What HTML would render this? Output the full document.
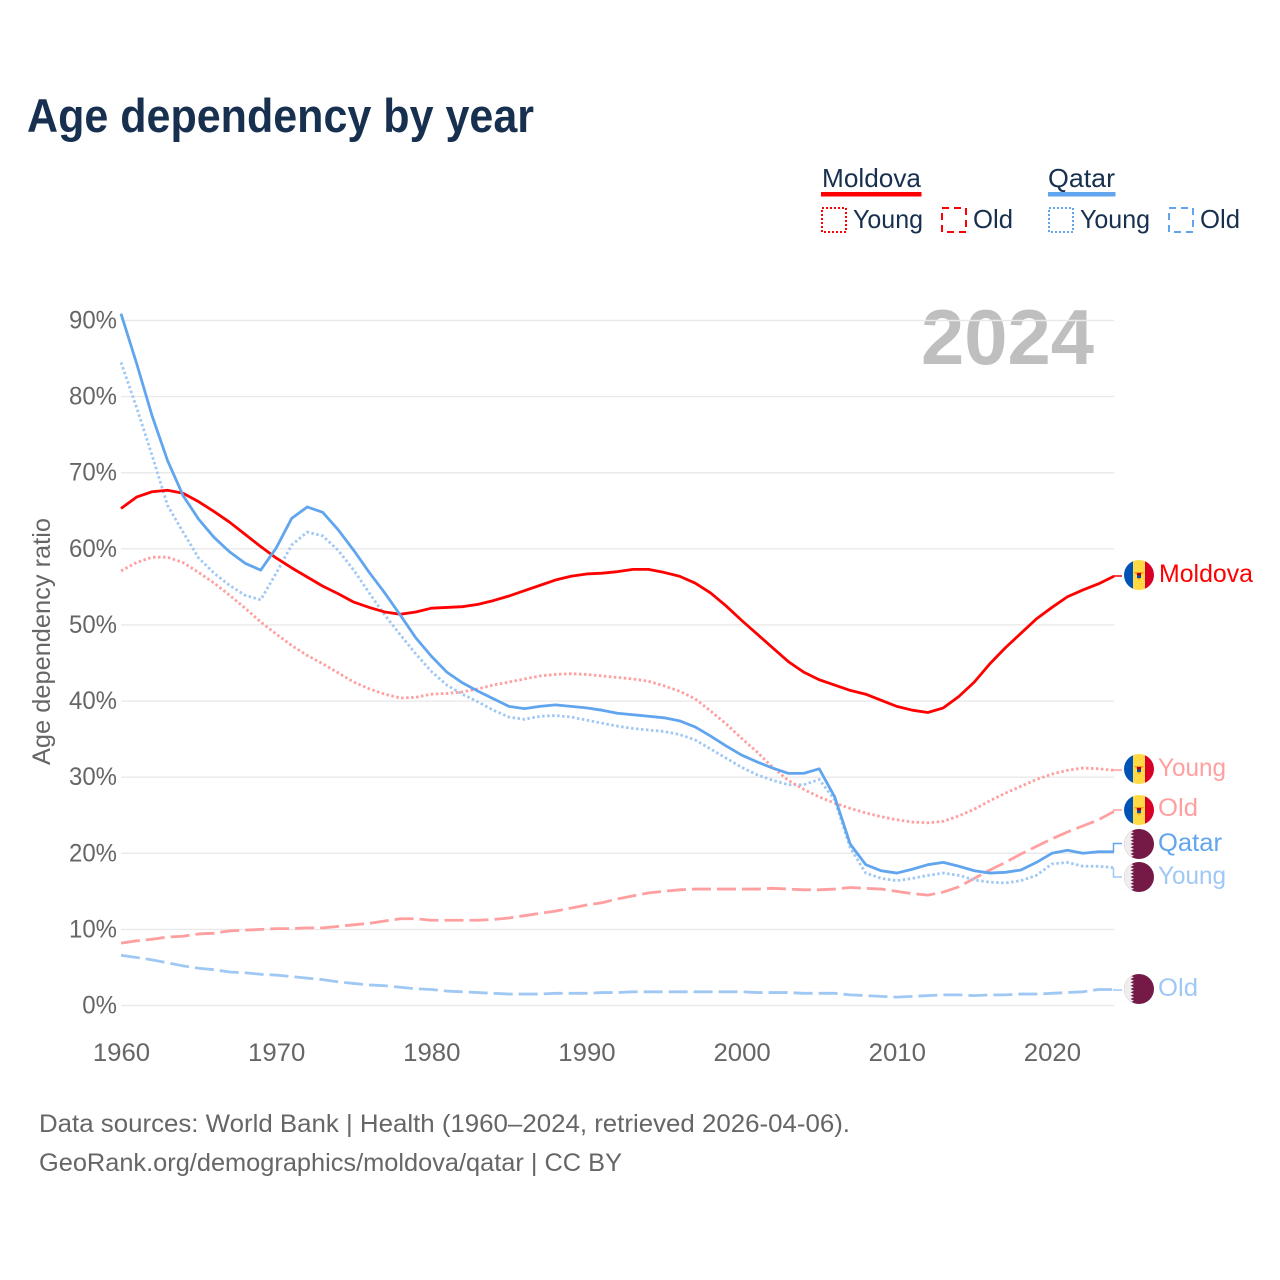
<!DOCTYPE html>
<html lang="en">
<head>
<meta charset="utf-8">
<title>Age dependency by year</title>
<style>
  html, body { margin: 0; padding: 0; background: #fff; }
  svg { display: block; font-family: "Liberation Sans", sans-serif; }
</style>
</head>
<body>
<svg id="chart" xmlns="http://www.w3.org/2000/svg" width="1280" height="1280" viewBox="0 0 1280 1280">
  <rect x="0" y="0" width="1280" height="1280" fill="#ffffff"/>
  <text x="27" y="132" font-size="47" font-weight="700" fill="#17304f" textLength="507" lengthAdjust="spacingAndGlyphs">Age dependency by year</text>

  <g font-size="26" fill="#17304f">
    <text x="822" y="187" textLength="99" lengthAdjust="spacingAndGlyphs">Moldova</text>
    <rect x="821" y="192" width="100.5" height="4.5" fill="#ff0000"/>
    <rect x="822" y="208" width="24" height="24" fill="none" stroke="#ff0000" stroke-width="2" stroke-dasharray="2 2"/>
    <text x="853" y="228" textLength="70" lengthAdjust="spacingAndGlyphs">Young</text>
    <rect x="942" y="208" width="24" height="24" fill="none" stroke="#ff0000" stroke-width="2" stroke-dasharray="7 5"/>
    <text x="973" y="228" textLength="40" lengthAdjust="spacingAndGlyphs">Old</text>
    <text x="1048" y="187" textLength="67" lengthAdjust="spacingAndGlyphs">Qatar</text>
    <rect x="1048" y="192" width="67.5" height="4.5" fill="#60a5ee"/>
    <rect x="1049" y="208" width="24" height="24" fill="none" stroke="#60a5ee" stroke-width="2" stroke-dasharray="2 2"/>
    <text x="1080" y="228" textLength="70" lengthAdjust="spacingAndGlyphs">Young</text>
    <rect x="1169" y="208" width="24" height="24" fill="none" stroke="#60a5ee" stroke-width="2" stroke-dasharray="7 5"/>
    <text x="1200" y="228" textLength="40" lengthAdjust="spacingAndGlyphs">Old</text>
  </g>

  <text x="921" y="364" font-size="78" font-weight="700" fill="#bfbfbf" textLength="173" lengthAdjust="spacingAndGlyphs">2024</text>
  <text transform="translate(50,765) rotate(-90)" font-size="25" fill="#666666" textLength="247" lengthAdjust="spacingAndGlyphs">Age dependency ratio</text>

  <g id="grid"></g>
  <g id="yticks"></g>
  <g id="xticks"></g>
  <g id="series"></g>

  <g font-size="25">
    <path d="M1113 576H1122" fill="none" stroke="#ff0000" stroke-width="1.5"/>
    <path d="M1113 770H1122" fill="none" stroke="#ff9f9f" stroke-width="1.5"/>
    <path d="M1113 810H1122" fill="none" stroke="#ff9f9f" stroke-width="1.5"/>
    <path d="M1113.500 852V843.500H1122" fill="none" stroke="#60a5ee" stroke-width="1.500"/>
    <path d="M1113.500 868V877H1122" fill="none" stroke="#a0c8f4" stroke-width="1.500"/>
    <path d="M1113 990H1122" fill="none" stroke="#a0c8f4" stroke-width="1.500"/>

    <defs>
      <clipPath id="flag-clip"><circle cx="0" cy="0" r="15"/></clipPath>
      <g id="flag-md" clip-path="url(#flag-clip)">
        <rect x="-15" y="-15" width="9" height="30" fill="#0052b4"/>
        <rect x="-6" y="-15" width="12" height="30" fill="#ffda44"/>
        <rect x="6" y="-15" width="9" height="30" fill="#d80027"/>
        <path d="M-5 -3H5L2 0V3L0 5L-2 3V0Z" fill="#ff9811"/>
        <rect x="-2" y="-2" width="4" height="2.500" fill="#a2001d"/>
        <rect x="-2" y="0.500" width="4" height="2.500" fill="#0052b4"/>
      </g>
      <g id="flag-qa" clip-path="url(#flag-clip)">
        <rect x="-15" y="-15" width="30" height="30" fill="#751a46"/>
        <path d="M-15 -15H-5L-8.500 -13.300L-5 -11.700L-8.500 -10L-5 -8.300L-8.500 -6.700L-5 -5L-8.500 -3.300L-5 -1.700L-8.500 0L-5 1.700L-8.500 3.300L-5 5L-8.500 6.700L-5 8.300L-8.500 10L-5 11.700L-8.500 13.300L-5 15H-15Z" fill="#eeeeee"/>
      </g>
    </defs>

    <use href="#flag-md" x="1139" y="575"/>
    <use href="#flag-md" x="1139" y="769"/>
    <use href="#flag-md" x="1139" y="810"/>
    <use href="#flag-qa" x="1139" y="844"/>
    <use href="#flag-qa" x="1139" y="877"/>
    <use href="#flag-qa" x="1139" y="989"/>

    <text x="1159" y="582" fill="#ff0000" textLength="94" lengthAdjust="spacingAndGlyphs">Moldova</text>
    <text x="1158" y="776" fill="#ff9f9f" textLength="68" lengthAdjust="spacingAndGlyphs">Young</text>
    <text x="1158" y="816" fill="#ff9f9f" textLength="40" lengthAdjust="spacingAndGlyphs">Old</text>
    <text x="1158" y="851" fill="#60a5ee" textLength="64" lengthAdjust="spacingAndGlyphs">Qatar</text>
    <text x="1158" y="884" fill="#a0c8f4" textLength="68" lengthAdjust="spacingAndGlyphs">Young</text>
    <text x="1158" y="996" fill="#a0c8f4" textLength="40" lengthAdjust="spacingAndGlyphs">Old</text>
  </g>

  <g font-size="25" fill="#666666">
    <text x="39" y="1132" textLength="811" lengthAdjust="spacingAndGlyphs">Data sources: World Bank | Health (1960–2024, retrieved 2026-04-06).</text>
    <text x="39" y="1171" textLength="583" lengthAdjust="spacingAndGlyphs">GeoRank.org/demographics/moldova/qatar | CC BY</text>
  </g>
</svg>

<script>
const startYear = 1960;
const yTickValues = [0, 10, 20, 30, 40, 50, 60, 70, 80, 90];
const yTickLabels = ["0%", "10%", "20%", "30%", "40%", "50%", "60%", "70%", "80%", "90%"];
const xTickYears = [1960, 1970, 1980, 1990, 2000, 2010, 2020];

const moldovaTotal = [65.3,66.8,67.5,67.7,67.3,66.2,64.9,63.5,61.9,60.3,58.8,57.5,56.3,55.1,54.1,53.0,52.3,51.7,51.4,51.7,52.2,52.3,52.4,52.7,53.2,53.8,54.5,55.2,55.9,56.4,56.7,56.8,57.0,57.3,57.3,56.9,56.4,55.5,54.2,52.5,50.6,48.8,47.0,45.2,43.8,42.8,42.1,41.4,40.9,40.1,39.3,38.8,38.5,39.1,40.6,42.5,44.9,47.0,48.9,50.8,52.3,53.7,54.6,55.4,56.4];
const moldovaYoung = [57.1,58.2,58.9,58.9,58.2,56.9,55.5,53.9,52.2,50.4,48.8,47.3,46.0,44.9,43.7,42.5,41.6,40.9,40.4,40.5,40.9,41.0,41.2,41.6,42.1,42.5,42.9,43.3,43.5,43.6,43.5,43.3,43.1,42.9,42.6,42.0,41.3,40.3,38.7,37.0,35.1,33.3,31.3,29.6,28.4,27.4,26.6,25.9,25.3,24.8,24.4,24.1,24.0,24.2,24.9,25.8,26.9,27.9,28.8,29.7,30.4,30.9,31.2,31.1,30.9];
const moldovaOld = [8.2,8.5,8.7,9.0,9.1,9.4,9.5,9.8,9.9,10.0,10.1,10.1,10.2,10.2,10.4,10.6,10.8,11.1,11.4,11.4,11.2,11.2,11.2,11.2,11.3,11.5,11.8,12.1,12.4,12.8,13.2,13.5,14.0,14.4,14.8,15.0,15.2,15.3,15.3,15.3,15.3,15.3,15.4,15.3,15.2,15.2,15.3,15.5,15.4,15.3,15.0,14.7,14.5,14.9,15.6,16.7,17.8,18.8,19.9,20.9,21.9,22.8,23.6,24.4,25.5];
const qatarTotal = [90.9,84.4,77.5,71.6,67.0,63.9,61.5,59.6,58.1,57.2,60.1,64.0,65.5,64.8,62.5,59.8,56.9,54.2,51.3,48.3,45.9,43.8,42.4,41.3,40.3,39.3,39.0,39.3,39.5,39.3,39.1,38.8,38.4,38.2,38.0,37.8,37.4,36.6,35.4,34.1,32.9,32.0,31.2,30.5,30.5,31.1,27.4,21.2,18.5,17.7,17.4,17.9,18.5,18.8,18.3,17.7,17.4,17.5,17.8,18.8,20.0,20.4,20.0,20.2,20.2];
const qatarYoung = [84.5,78.6,72.3,65.7,62.2,58.8,56.8,55.2,53.9,53.3,56.8,60.5,62.2,61.7,59.8,57.2,54.2,51.3,48.7,46.2,43.9,42.1,40.9,39.9,38.8,37.9,37.6,38.0,38.1,37.9,37.5,37.1,36.7,36.4,36.2,36.0,35.6,34.9,33.7,32.5,31.3,30.3,29.6,29.0,29.0,29.7,27.0,20.7,17.4,16.7,16.4,16.7,17.1,17.4,17.1,16.5,16.2,16.1,16.4,17.1,18.6,18.8,18.3,18.3,18.1];
const qatarOld = [6.6,6.3,6.0,5.6,5.2,4.9,4.7,4.4,4.3,4.1,4.0,3.8,3.6,3.4,3.1,2.9,2.7,2.6,2.4,2.2,2.1,1.9,1.8,1.7,1.6,1.5,1.5,1.5,1.6,1.6,1.6,1.7,1.7,1.8,1.8,1.8,1.8,1.8,1.8,1.8,1.8,1.7,1.7,1.7,1.6,1.6,1.6,1.4,1.3,1.2,1.1,1.2,1.3,1.4,1.4,1.3,1.4,1.4,1.5,1.5,1.6,1.7,1.8,2.1,2.1];

const NS = "http://www.w3.org/2000/svg";
function xScale(year) { return 121 + (year - 1960) * (1114 - 121) / 64; }
function yScale(v) { return 1005.5 - v * (1005.5 - 320.5) / 90; }
function make(tag, attrs, parent) {
  const el = document.createElementNS(NS, tag);
  for (const k in attrs) el.setAttribute(k, attrs[k]);
  parent.appendChild(el);
  return el;
}
function fitText(el, factor) {
  el.setAttribute("textLength", (el.getComputedTextLength() * factor).toFixed(1));
  el.setAttribute("lengthAdjust", "spacingAndGlyphs");
}

const gridGroup = document.getElementById("grid");
const yTickGroup = document.getElementById("yticks");
const xTickGroup = document.getElementById("xticks");
const seriesGroup = document.getElementById("series");

yTickValues.forEach(function (v, i) {
  const line = make("line", { x1: 121, x2: 1114, y1: yScale(v), y2: yScale(v), stroke: "#e9e9e9", "stroke-width": 1.4 }, gridGroup);
  
  
  const label = make("text", { x: 117, y: yScale(v) + 8, "text-anchor": "end", "font-size": 25, fill: "#666666" }, yTickGroup);
  
  
  label.textContent = yTickLabels[i];
  fitText(label, 0.96);
});

xTickYears.forEach(function (year) {
  const label = make("text", { x: xScale(year) + 0.5, y: 1061, "text-anchor": "middle", "font-size": 25, fill: "#666666" }, xTickGroup);
  
  
  label.textContent = String(year);
  fitText(label, 1.03);
});

function drawSeries(values, name, color, width, dash) {
  const d = values.map(function (v, i) {
    return (i ? "L" : "M") + xScale(startYear + i).toFixed(2) + " " + yScale(v).toFixed(2);
  }).join("");
  const path = make("path", { d: d, fill: "none", stroke: color, "stroke-width": width, "stroke-linejoin": "round" }, seriesGroup);
  if (dash) path.setAttribute("stroke-dasharray", dash);
  
  
}

drawSeries(qatarOld, "line-qatar-old", "#a0c8f4", 2.8, "19 6");
drawSeries(moldovaOld, "line-moldova-old", "#ff9f9f", 2.8, "19 6");
drawSeries(qatarYoung, "line-qatar-young", "#a0c8f4", 2.8, "2.5 2.5");
drawSeries(moldovaYoung, "line-moldova-young", "#ff9f9f", 2.8, "2.5 2.5");
drawSeries(moldovaTotal, "line-moldova-total", "#ff0000", 2.8, null);
drawSeries(qatarTotal, "line-qatar-total", "#60a5ee", 2.8, null);
</script>
</body>
</html>
